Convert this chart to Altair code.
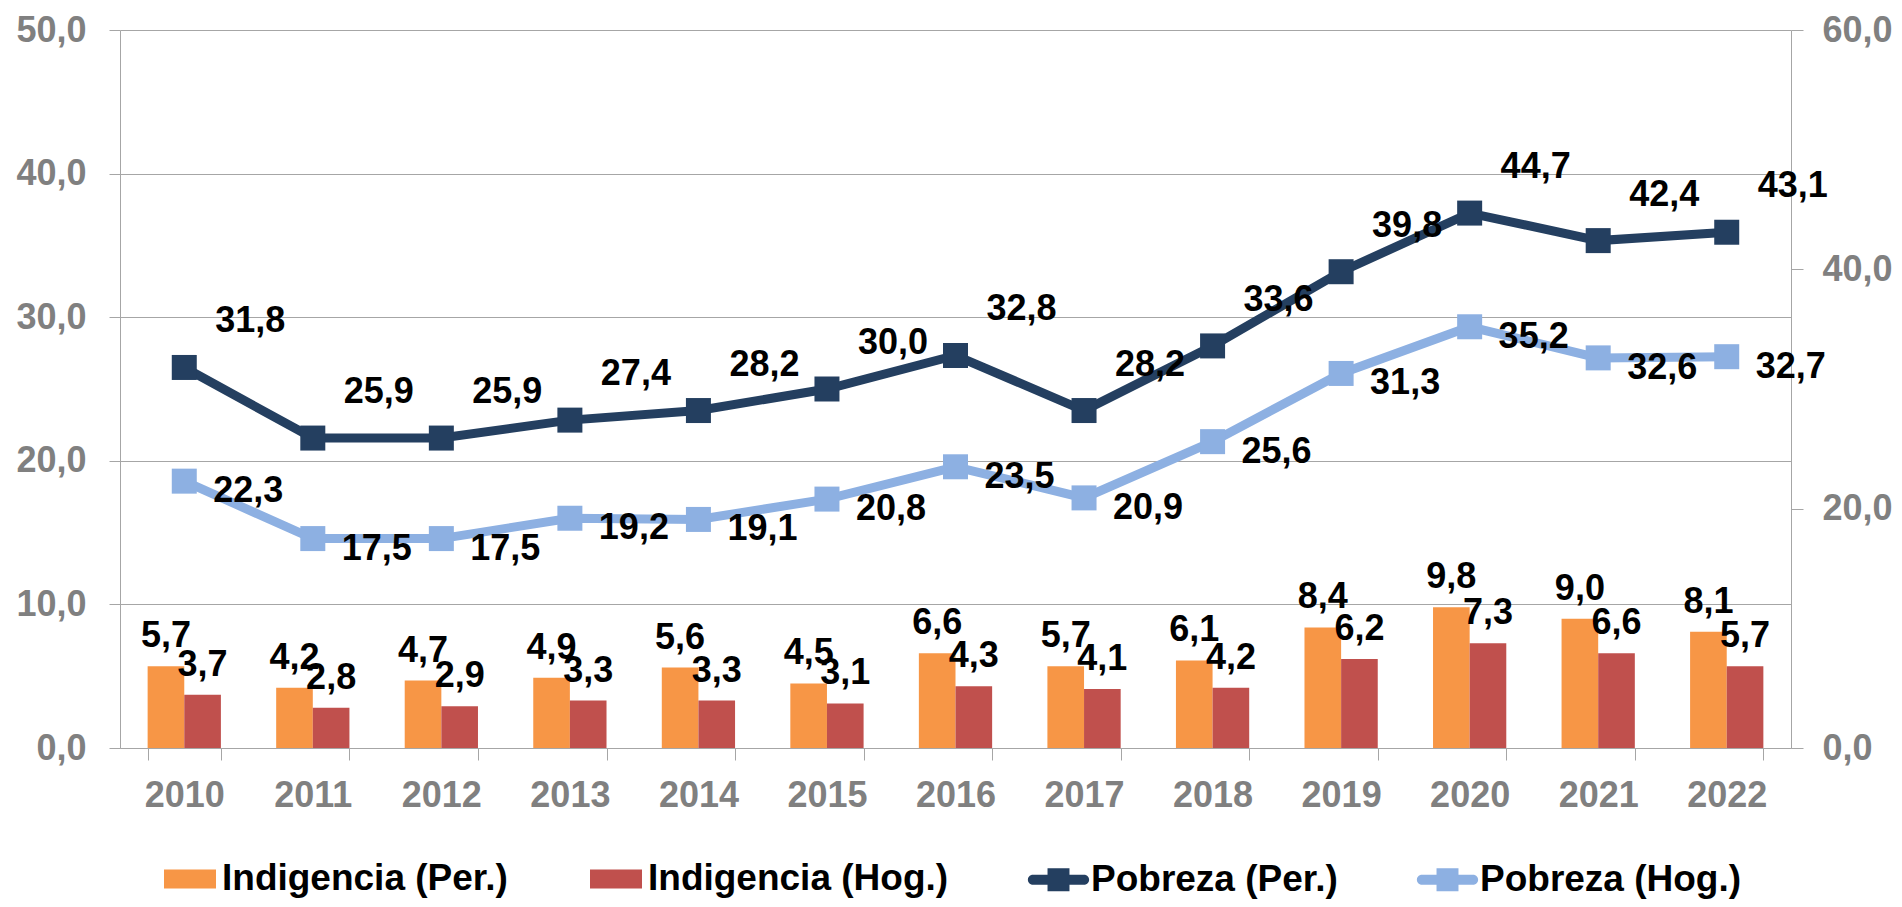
import altair as alt
import pandas as pd

# ---------------- data ----------------
years = ["2010", "2011", "2012", "2013", "2014", "2015", "2016",
         "2017", "2018", "2019", "2020", "2021", "2022"]
bar_series = ["Indigencia (Per.)", "Indigencia (Hog.)"]
line_series = ["Pobreza (Per.)", "Pobreza (Hog.)"]

indigencia_per = [5.7, 4.2, 4.7, 4.9, 5.6, 4.5, 6.6, 5.7, 6.1, 8.4, 9.8, 9.0, 8.1]
indigencia_hog = [3.7, 2.8, 2.9, 3.3, 3.3, 3.1, 4.3, 4.1, 4.2, 6.2, 7.3, 6.6, 5.7]
pobreza_per = [31.8, 25.9, 25.9, 27.4, 28.2, 30.0, 32.8, 28.2, 33.6, 39.8, 44.7, 42.4, 43.1]
pobreza_hog = [22.3, 17.5, 17.5, 19.2, 19.1, 20.8, 23.5, 20.9, 25.6, 31.3, 35.2, 32.6, 32.7]

left_ticks = [0, 10, 20, 30, 40, 50]
right_ticks = [0, 20, 40, 60]


def fmt(v):
    return f"{v:.1f}".replace(".", ",")


bars_df = pd.DataFrame(
    [{"year": y, "series": s, "value": v, "label": fmt(v)}
     for s, vals in zip(bar_series, [indigencia_per, indigencia_hog])
     for y, v in zip(years, vals)]
)
lines_df = pd.DataFrame(
    [{"year": y, "series": s, "value": v, "label": fmt(v)}
     for s, vals in zip(line_series, [pobreza_per, pobreza_hog])
     for y, v in zip(years, vals)]
)

# ---------------- styles ----------------
FONT = "Liberation Sans"
GRAY_TXT = "#808080"
GRID = "#A6A6A6"
ORANGE = "#F79646"
RED = "#C0504D"
NAVY = "#243F60"
LIGHT = "#8DB0E2"
COMMA = "replace(format(datum.value, '.1f'), '.', ',')"

BAR_PATH = "M-1,-0.365H1V0.365H-1Z"
LINE_PATH = ("M-0.84,-0.164H-0.36V-0.377H0.36V-0.164H0.84"
             "A0.164,0.164 0 0 1 0.84,0.164H0.36V0.377H-0.36V0.164H-0.84"
             "A0.164,0.164 0 0 1 -0.84,-0.164Z")

x_enc = alt.X(
    "year:N", sort=years, title=None,
    scale=alt.Scale(paddingInner=0.43, paddingOuter=0.215),
    axis=alt.Axis(labelFont=FONT, labelFontSize=36, labelFontWeight="bold",
                  labelColor=GRAY_TXT, labelAngle=0, tickBand="extent",
                  tickSize=12, tickColor=GRID, domainColor=GRID,
                  labelPadding=18, grid=False),
)

y_left = alt.Y(
    "value:Q", title=None,
    scale=alt.Scale(domain=[0, 50], nice=False),
    axis=alt.Axis(values=left_ticks, labelExpr=COMMA, labelFont=FONT,
                  labelFontSize=36, labelFontWeight="bold", labelColor=GRAY_TXT,
                  grid=True, gridColor=GRID, tickSize=11, tickColor=GRID,
                  domainColor=GRID, labelPadding=23),
)

y_right = alt.Y(
    "value:Q", title=None,
    scale=alt.Scale(domain=[0, 60], nice=False),
    axis=alt.Axis(orient="right", values=right_ticks, labelExpr=COMMA,
                  labelFont=FONT, labelFontSize=36, labelFontWeight="bold",
                  labelColor=GRAY_TXT, grid=False, tickSize=12,
                  tickColor=GRID, domainColor=GRID, labelPadding=19),
)

x_off = alt.XOffset("series:N", sort=bar_series,
                    scale=alt.Scale(paddingInner=0, paddingOuter=0))

bar_legend = alt.Legend(
    title=None, orient="none", legendX=44, legendY=823, direction="horizontal",
    columns=2, symbolType=BAR_PATH, symbolSize=2704, symbolStrokeWidth=0,
    symbolOpacity=1, labelFont=FONT, labelFontSize=37, labelFontWeight="bold",
    labelColor="black", labelOffset=6, columnPadding=82, labelLimit=500,
)
line_legend = alt.Legend(
    title=None, orient="none", legendX=908, legendY=819, direction="horizontal",
    columns=2, symbolType=LINE_PATH, symbolSize=3721, symbolStrokeWidth=0,
    symbolOpacity=1, labelFont=FONT, labelFontSize=37, labelFontWeight="bold",
    labelColor="black", labelOffset=2, columnPadding=78, labelLimit=500,
)

bar_color = alt.Color("series:N", sort=bar_series,
                      scale=alt.Scale(domain=bar_series, range=[ORANGE, RED]),
                      legend=bar_legend)
line_color = alt.Color("series:N", sort=line_series,
                       scale=alt.Scale(domain=line_series, range=[NAVY, LIGHT]),
                       legend=line_legend)

# ---------------- layers ----------------
bars = alt.Chart(bars_df).mark_bar().encode(
    x=x_enc, xOffset=x_off, y=y_left, color=bar_color
)
bar_text = alt.Chart(bars_df).mark_text(
    font=FONT, fontSize=36, fontWeight="bold", color="black",
    align="center", baseline="alphabetic", dy=-19,
).encode(x=x_enc, xOffset=x_off, y=y_left, text="label:N")

left = alt.layer(bars, bar_text)

lines = alt.Chart(lines_df).mark_line(strokeWidth=9, opacity=1).encode(
    x=x_enc, y=y_right, color=line_color
)
squares = alt.Chart(lines_df).mark_square(size=625, opacity=1, filled=True).encode(
    x=x_enc, y=y_right, color=line_color
)
text_per = alt.Chart(lines_df).transform_filter(
    alt.datum.series == line_series[0]
).mark_text(
    font=FONT, fontSize=36, fontWeight="bold", color="black",
    align="center", baseline="middle", dx=66, dy=-46,
).encode(x=x_enc, y=y_right, text="label:N")
text_hog = alt.Chart(lines_df).transform_filter(
    alt.datum.series == line_series[1]
).mark_text(
    font=FONT, fontSize=36, fontWeight="bold", color="black",
    align="center", baseline="middle", dx=64, dy=10,
).encode(x=x_enc, y=y_right, text="label:N")

right = alt.layer(lines, squares, text_per, text_hog)

chart = alt.layer(left, right).resolve_scale(
    y="independent", color="independent"
).properties(
    width=1671, height=718,
    padding={"left": 112, "top": 22, "right": 103, "bottom": 151},
    autosize=alt.AutoSizeParams(type="none"),
).configure_view(stroke=None)

chart.save("out.html", embed_options={"renderer": "svg", "actions": False})
